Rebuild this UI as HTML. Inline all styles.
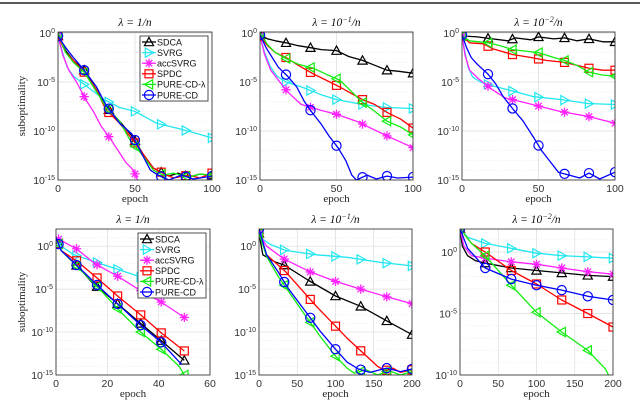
<!DOCTYPE html>
<html><head><meta charset="utf-8">
<style>
html,body{margin:0;padding:0;background:#fff;width:640px;height:402px;overflow:hidden}
svg{display:block}
text{font-family:"Liberation Sans",sans-serif}
.serif{font-family:"Liberation Serif",serif}
</style></head>
<body>
<svg id="fig" width="640" height="402" viewBox="0 0 640 402" xmlns="http://www.w3.org/2000/svg">
<rect x="0" y="0" width="640" height="402" fill="#fff"/>
<line x1="0" y1="3" x2="640" y2="3" stroke="#222" stroke-width="1.5"/>
</svg>
<script>
// ===== Data (epoch, log10 suboptimality) =====
const p1_sdca=[[0,-0.3],[5,-1.8],[10,-2.8],[17,-3.8],[25,-5.8],[31,-7.5],[40,-9],[48,-10.5],[55,-12.3],[62,-13.8],[67,-14.2],[72,-14.6],[78,-14.3],[85,-14.7],[92,-14.4],[100,-14.5]];
const p1_svrg=[[0,-0.3],[3,-2],[6,-3.5],[10,-4.4],[15,-5],[20,-5.6],[30,-6.8],[40,-7.6],[50,-8],[64,-9.2],[82,-9.9],[100,-10.7]];
const p1_acc=[[0,-0.3],[3,-2.2],[7,-3.8],[12,-5],[18,-6.8],[23,-8],[28,-9.5],[34,-10.8],[39,-12],[44,-13.2],[49,-14],[53,-15.5]];
const p1_spdc=[[0,-0.3],[5,-2],[10,-2.8],[17,-4],[25,-5.8],[31,-7.8],[40,-9.2],[49,-11],[55,-12.3],[62,-13.8],[67,-14.2],[75,-14.8],[85,-14.5],[92,-14.8],[100,-14.3]];
const p1_cdl=[[0,0],[5,-2],[10,-3],[17,-4],[25,-6],[31,-7.5],[40,-9],[47,-11],[55,-12.5],[62,-14],[68,-14.5],[75,-14.3],[85,-14.7],[92,-14.4],[100,-14.5]];
const p1_pcd=[[0,-0.3],[5,-1.5],[10,-2.5],[17,-3.8],[25,-5.5],[31,-7.3],[40,-9.2],[48,-10.3],[55,-12.5],[60,-14],[65,-14.5],[72,-15],[80,-14.5],[88,-14.9],[100,-14.6]];
const p2_sdca=[[0,-0.2],[5,-0.6],[10,-0.8],[17,-1],[25,-1.3],[33,-1.5],[40,-1.7],[50,-1.8],[58,-2.4],[67,-2.8],[75,-3.3],[83,-3.8],[90,-3.9],[100,-4.1]];
const p2_svrg=[[0,-0.3],[3,-2],[7,-3.5],[11,-4.4],[17,-5],[27,-5.5],[40,-6.3],[50,-6.8],[67,-7.3],[83,-7.6],[100,-7.7]];
const p2_acc=[[0,-0.3],[3,-2.2],[7,-3.8],[11,-4.6],[18,-6],[27,-7.3],[40,-7.9],[50,-8.3],[63,-9],[83,-10.5],[100,-11.7]];
const p2_spdc=[[0,-0.3],[5,-1.3],[10,-2],[17,-2.5],[25,-3.3],[35,-4.2],[43,-4.8],[52,-5.5],[60,-6.2],[67,-6.8],[75,-7.3],[83,-8.1],[92,-8.8],[100,-9.7]];
const p2_cdl=[[0,0],[5,-1.2],[10,-2],[17,-2.6],[25,-3.2],[35,-3.6],[43,-4.2],[52,-4.8],[60,-6],[67,-7.1],[75,-8],[83,-9],[92,-9.6],[100,-10.4]];
const p2_pcd=[[0,-0.2],[4,-1.5],[8,-2.5],[12,-3.5],[18,-4.4],[24,-5.5],[29,-7],[34,-8.1],[40,-9.3],[45,-10.5],[51,-11.7],[56,-13],[60,-14.5],[63,-15],[70,-14.5],[76,-14.9],[83,-14.6],[90,-14.8],[100,-14.7]];
const p3_sdca=[[0,-0.3],[10,-0.4],[20,-0.6],[30,-0.8],[35,-0.5],[45,-0.7],[50,-0.4],[60,-0.6],[67,-0.5],[75,-0.8],[83,-0.6],[92,-0.9],[100,-0.9]];
const p3_svrg=[[0,-0.3],[2,-2],[4,-3.5],[7,-4.5],[12,-5],[20,-5.4],[30,-5.8],[47,-6.5],[65,-6.8],[82,-7.2],[100,-7.3]];
const p3_acc=[[0,-0.3],[2,-2.3],[5,-3.8],[11,-4.7],[20,-5.8],[28,-6.6],[46,-7.3],[64,-8],[82,-8.5],[100,-9.2]];
const p3_spdc=[[0,-0.3],[5,-1],[14,-1.1],[20,-1.6],[33,-2.2],[45,-2.5],[55,-2.8],[67,-3],[75,-3.3],[83,-3.6],[92,-3.8],[100,-3.8]];
const p3_cdl=[[0,-0.3],[5,-0.8],[17,-1],[25,-1.3],[33,-1.7],[50,-2],[60,-2.5],[67,-2.8],[75,-3.3],[83,-4],[92,-4.3],[100,-4.4]];
const p3_pcd=[[0,-0.2],[3,-1.5],[6,-2.5],[10,-3.2],[17,-4.2],[22,-5.2],[27,-6.5],[33,-7.7],[40,-9],[47,-10.7],[52,-12],[57,-13],[63,-14.2],[70,-14.5],[77,-14.8],[83,-14.3],[90,-14.9],[100,-14.2]];
const p4_sdca=[[0,1],[2,-0.5],[7,-1.9],[14,-4.2],[24,-6.7],[33,-9],[41,-11],[50,-13.3]];
const p4_svrg=[[0,1],[2,0],[7,-1],[15,-1.8],[22,-2.5],[30,-3.3],[40,-4.3],[50,-5.2]];
const p4_acc=[[0,1],[3,0.5],[8,-0.3],[15,-2],[24,-3.5],[32,-5],[41,-6.5],[50,-8.3]];
const p4_spdc=[[0,1],[2,-0.5],[8,-1.7],[16,-3.7],[24,-5.8],[33,-8],[41,-10.1],[50,-12.2]];
const p4_cdl=[[0,1],[2,-0.5],[8,-2.3],[17,-5],[25,-7.6],[33,-10],[41,-12],[48,-14],[50,-15]];
const p4_pcd=[[0,1],[2,-0.5],[8,-2.2],[17,-4.8],[25,-7],[33,-9.2],[41,-11.2],[49,-13.8]];
const p5_sdca=[[0,1.5],[5,-1],[20,-1.8],[33,-2.2],[65,-4],[100,-5.8],[133,-7],[167,-8.7],[200,-10.3]];
const p5_svrg=[[0,1.5],[5,0.8],[15,0.2],[35,-0.5],[75,-1],[115,-1.3],[160,-1.9],[200,-2.3]];
const p5_acc=[[0,1.5],[10,0],[33,-1.5],[67,-3],[100,-4.1],[133,-5],[167,-5.9],[200,-6.7]];
const p5_spdc=[[0,1.5],[10,-1],[35,-3],[75,-7],[115,-10.7],[155,-14],[165,-14.5],[175,-14.2],[185,-14.7],[200,-14.4]];
const p5_cdl=[[0,1.5],[10,-1.2],[25,-3.5],[38,-5.2],[60,-8],[80,-10.5],[100,-12.8],[115,-14.2],[125,-14.8],[140,-14.4],[155,-15],[170,-14.5],[185,-15],[200,-14.6]];
const p5_pcd=[[0,2],[10,-1],[25,-3],[38,-4.9],[60,-7.5],[80,-9.9],[100,-12],[115,-13.5],[130,-14.3],[145,-14.7],[167,-14.2],[185,-14.6],[200,-14.3]];
const p6_sdca=[[0,1.9],[3,0.5],[10,-0.3],[20,-0.7],[33,-0.9],[67,-1.3],[100,-1.5],[133,-1.7],[167,-1.9],[200,-2]];
const p6_svrg=[[0,1.9],[10,1.2],[33,0.7],[67,0.3],[100,-0.1],[133,-0.3],[167,-0.4],[200,-0.5]];
const p6_acc=[[0,1.9],[5,0.5],[15,-0.3],[33,-0.5],[67,-0.8],[100,-1],[133,-1.3],[167,-1.6],[200,-1.8]];
const p6_spdc=[[0,1.9],[15,0.7],[33,0],[67,-1.5],[100,-2.6],[133,-3.9],[167,-5],[200,-6.1]];
const p6_cdl=[[0,1.9],[15,0.7],[33,-0.3],[67,-2.7],[100,-4.9],[133,-6.5],[167,-8],[190,-9.5],[198,-10.5]];
const p6_pcd=[[0,1.9],[10,0.3],[33,-1.3],[67,-2.2],[100,-2.7],[133,-3.1],[167,-3.6],[200,-3.9]];

const mk100=[0,17,33,50,67,83,100];
const mk60=[1,8,16,24,33,41,50];
const mk200=[0,33,67,100,133,167,200];

const seriesNames=['SDCA','SVRG','accSVRG','SPDC','PURE-CD-λ','PURE-CD'];
const seriesKeys=['sdca','svrg','acc','spdc','cdl','pcd'];
const colors={sdca:'#000',svrg:'#22e6f0',acc:'#ff22ff',spdc:'#ff0000',cdl:'#11ee11',pcd:'#0000ff'};
const shapes={sdca:'tu',svrg:'tr',acc:'star',spdc:'sq',cdl:'tl',pcd:'circ'};

const panels=[
 {id:'p1',x0:58,x1:212,y0:32,y1:180,xmax:100,ymin:-15,ymax:0.1,xt:[0,50,100],yt:[0,-5,-10,-15],title:['1','/n'],data:{sdca:p1_sdca,svrg:p1_svrg,acc:p1_acc,spdc:p1_spdc,cdl:p1_cdl,pcd:p1_pcd},mk:mk100,ylab:true,legend:true},
 {id:'p2',x0:260,x1:413,y0:32,y1:180,xmax:100,ymin:-15,ymax:0.1,xt:[0,50,100],yt:[0,-5,-10,-15],title:['10','/n','-1'],data:{sdca:p2_sdca,svrg:p2_svrg,acc:p2_acc,spdc:p2_spdc,cdl:p2_cdl,pcd:p2_pcd},mk:mk100},
 {id:'p3',x0:462,x1:615,y0:32,y1:180,xmax:100,ymin:-15,ymax:0.1,xt:[0,50,100],yt:[0,-5,-10,-15],title:['10','/n','-2'],data:{sdca:p3_sdca,svrg:p3_svrg,acc:p3_acc,spdc:p3_spdc,cdl:p3_cdl,pcd:p3_pcd},mk:mk100},
 {id:'p4',x0:56,x1:210,y0:229,y1:375,xmax:60,ymin:-15,ymax:2,xt:[0,20,40,60],yt:[0,-5,-10,-15],title:['1','/n'],data:{sdca:p4_sdca,svrg:p4_svrg,acc:p4_acc,spdc:p4_spdc,cdl:p4_cdl,pcd:p4_pcd},mk:mk60,ylab:true,legend:true},
 {id:'p5',x0:259,x1:412,y0:229,y1:375,xmax:200,ymin:-15,ymax:2,xt:[0,50,100,150,200],yt:[0,-5,-10,-15],title:['10','/n','-1'],data:{sdca:p5_sdca,svrg:p5_svrg,acc:p5_acc,spdc:p5_spdc,cdl:p5_cdl,pcd:p5_pcd},mk:mk200},
 {id:'p6',x0:460,x1:613,y0:229,y1:375,xmax:200,ymin:-10,ymax:1.87,xt:[0,50,100,150,200],yt:[0,-5,-10],title:['10','/n','-2'],data:{sdca:p6_sdca,svrg:p6_svrg,acc:p6_acc,spdc:p6_spdc,cdl:p6_cdl,pcd:p6_pcd},mk:mk200}
];

const NS='http://www.w3.org/2000/svg';
const fig=document.getElementById('fig');
function el(tag,attrs,parent){const e=document.createElementNS(NS,tag);for(const k in attrs)e.setAttribute(k,attrs[k]);(parent||fig).appendChild(e);return e;}

function marker(g,shape,cx,cy,col){
  const r=4.6;let m;
  if(shape==='circ'){m=el('circle',{cx:cx,cy:cy,r:r,fill:'none',stroke:col,'stroke-width':1.2},g);}
  else if(shape==='sq'){m=el('rect',{x:cx-r+0.6,y:cy-r+0.6,width:2*r-1.2,height:2*r-1.2,fill:'none',stroke:col,'stroke-width':1.2},g);}
  else if(shape==='tu'){m=el('polygon',{points:`${cx},${cy-r} ${cx-r},${cy+r*0.8} ${cx+r},${cy+r*0.8}`,fill:'none',stroke:col,'stroke-width':1.2},g);}
  else if(shape==='tr'){m=el('polygon',{points:`${cx+r},${cy} ${cx-r*0.8},${cy-r} ${cx-r*0.8},${cy+r}`,fill:'none',stroke:col,'stroke-width':1.2},g);}
  else if(shape==='tl'){m=el('polygon',{points:`${cx-r},${cy} ${cx+r*0.8},${cy-r} ${cx+r*0.8},${cy+r}`,fill:'none',stroke:col,'stroke-width':1.2},g);}
  else {m=el('path',{d:`M${cx-r},${cy}H${cx+r}M${cx},${cy-r}V${cy+r}M${cx-r*0.7},${cy-r*0.7}L${cx+r*0.7},${cy+r*0.7}M${cx-r*0.7},${cy+r*0.7}L${cx+r*0.7},${cy-r*0.7}`,fill:'none',stroke:col,'stroke-width':1.3},g);}
  
  
}
function interp(d,x){for(let i=1;i<d.length;i++){if(x<=d[i][0]){const a=d[i-1],b=d[i];return a[1]+(b[1]-a[1])*(x-a[0])/(b[0]-a[0]);}}return null;}

panels.forEach((p,pi)=>{
  const sx=v=>p.x0+(v/p.xmax)*(p.x1-p.x0);
  const sy=v=>p.y1-(v-p.ymin)/(p.ymax-p.ymin)*(p.y1-p.y0);
  const g=el('g',{});
  
  
  el('rect',{x:p.x0,y:p.y0,width:p.x1-p.x0,height:p.y1-p.y0,fill:'#fff'},g);
  for(let e=Math.ceil(p.ymin);e<=Math.floor(p.ymax);e++){
    const y=sy(e);const major=(e%5===0);
    const gl=el('line',{x1:p.x0,x2:p.x1,y1:y,y2:y,stroke:major?'#dcdcdc':'#e6e6e6','stroke-width':0.7,'stroke-dasharray':major?'':'1,2'},g);
    
    
  }
  p.xt.forEach(t=>{const x=sx(t);
    const gl=el('line',{x1:x,x2:x,y1:p.y0,y2:p.y1,stroke:'#dcdcdc','stroke-width':0.7},g);
    
    
    const tl=el('text',{x:x,y:p.y1+12,'font-size':10.5,fill:'#333','text-anchor':'middle'},g);tl.textContent=t;
    
    
  });
  p.yt.forEach(t=>{const y=sy(t);
    const tl=el('text',{x:p.x0-3,y:y+4,'font-size':10.5,fill:'#333','text-anchor':'end'},g);
    
    
    const a=document.createElementNS(NS,'tspan');a.textContent='10';tl.appendChild(a);
    const b=document.createElementNS(NS,'tspan');b.setAttribute('dy','-4');b.setAttribute('font-size','7');b.textContent=String(t);tl.appendChild(b);
  });
  const cp=el('clipPath',{id:'clip'+p.id},g);
  el('rect',{x:p.x0,y:p.y0,width:p.x1-p.x0,height:p.y1-p.y0},cp);
  const sg=el('g',{'clip-path':`url(#clip${p.id})`},g);
  ['sdca','svrg','acc','spdc','cdl','pcd'].forEach(k=>{
    const d=p.data[k];
    const pts=d.map(q=>sx(q[0]).toFixed(1)+','+sy(q[1]).toFixed(1)).join(' ');
    const pl=el('polyline',{points:pts,fill:'none',stroke:colors[k],'stroke-width':1.3,'stroke-linejoin':'round'},sg);
    
    
    p.mk.forEach(m=>{const v=interp(d,m);if(v!==null)marker(sg,shapes[k],sx(m),sy(v),colors[k]);});
  });
  const box=el('rect',{x:p.x0,y:p.y0,width:p.x1-p.x0,height:p.y1-p.y0,fill:'none',stroke:'#262626','stroke-width':0.8},g);
  
  
  const cx=(p.x0+p.x1)/2;
  const tt=el('text',{x:cx,y:p.y0-6,'font-size':11.5,'text-anchor':'middle','font-style':'italic',class:'serif',fill:'#111'},g);
  
  
  const s1=document.createElementNS(NS,'tspan');s1.textContent='λ = '+p.title[0];tt.appendChild(s1);
  if(p.title[2]){const s2=document.createElementNS(NS,'tspan');s2.setAttribute('dy','-4');s2.setAttribute('font-size','8');s2.textContent=p.title[2].replace('-','−');tt.appendChild(s2);
    const s3=document.createElementNS(NS,'tspan');s3.setAttribute('dy','4');s3.textContent=p.title[1];tt.appendChild(s3);}
  else{const s3=document.createElementNS(NS,'tspan');s3.textContent=p.title[1];tt.appendChild(s3);}
  const xl=el('text',{x:cx,y:p.y1+22,'font-size':11,'text-anchor':'middle',class:'serif',fill:'#222'},g);xl.textContent='epoch';
  
  
  if(p.ylab){
    const yc=(p.y0+p.y1)/2;
    const yl=el('text',{x:25,y:yc,'font-size':11,'text-anchor':'middle',class:'serif',fill:'#222',transform:`rotate(-90 25 ${yc})`},g);yl.textContent='suboptimality';
    
    
  }
  if(p.legend){
    const lx=p.x1-72,ly=p.y0+4;
    const lg=el('g',{},g);
    
    
    el('rect',{x:lx,y:ly,width:68,height:65,fill:'#fff',stroke:'#262626','stroke-width':0.8},lg);
    seriesKeys.forEach((k,i)=>{
      const y=ly+6+i*10.6;
      const ent=el('g',{},lg);
      
      
      el('line',{x1:lx+2,x2:lx+16,y1:y,y2:y,stroke:colors[k],'stroke-width':1.3},ent);
      marker(ent,shapes[k],lx+9,y,colors[k]);
      const t=el('text',{x:lx+17,y:y+3.3,'font-size':9,fill:'#111'},ent);t.textContent=seriesNames[i];
    });
  }
});
</script>
</body></html>
